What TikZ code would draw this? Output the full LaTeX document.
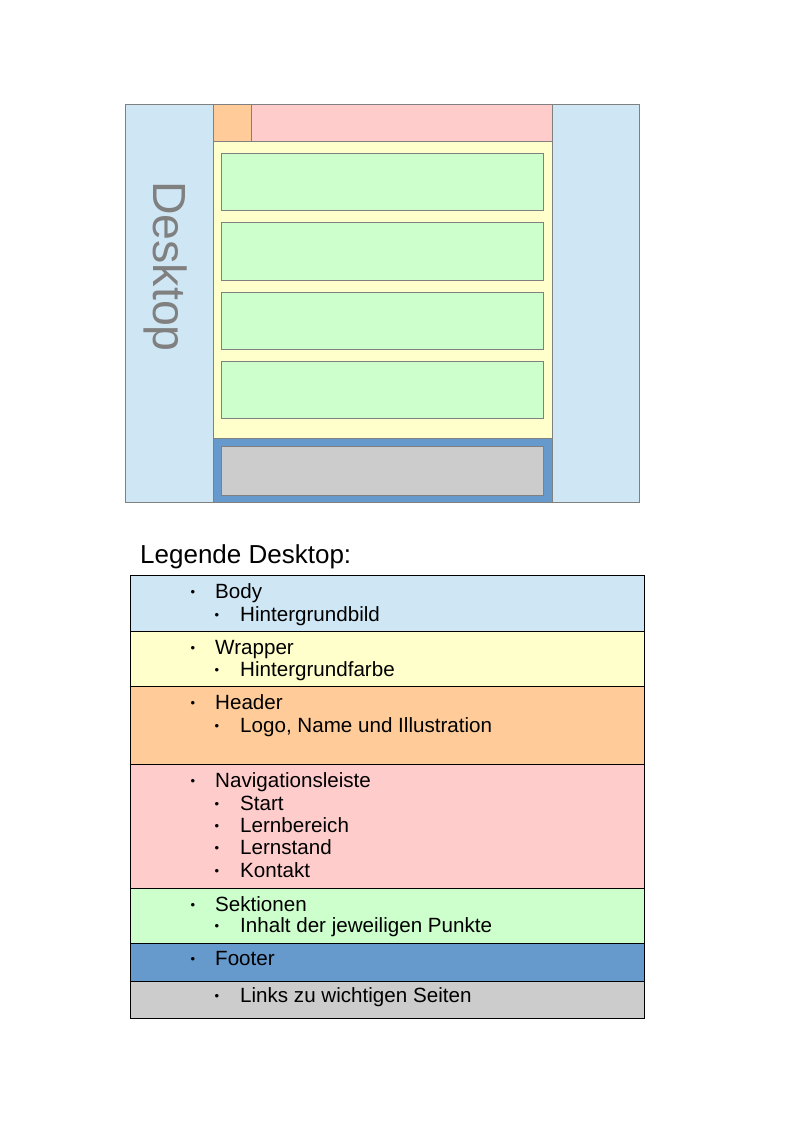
\documentclass[tikz,border=0pt]{standalone}
\usepackage{fontspec}
\setmainfont{Liberation Sans}
\definecolor{bodyc}{HTML}{CFE7F5}
\definecolor{wrapc}{HTML}{FFFFCC}
\definecolor{headc}{HTML}{FFCC99}
\definecolor{navc}{HTML}{FFCCCC}
\definecolor{secc}{HTML}{CCFFCC}
\definecolor{footc}{HTML}{6699CC}
\definecolor{linkc}{HTML}{CCCCCC}
\definecolor{edgec}{HTML}{808080}
\tikzset{
  gbox/.style={draw=edgec, line width=1pt},
  lrow/.style={draw=black, line width=1pt},
  ltxt/.style={anchor=base west, inner sep=0pt, font=\fontsize{20.6}{24}\selectfont},
  lbul/.style={anchor=base, inner sep=0pt, font=\fontsize{13}{15}\selectfont},
}
\begin{document}
\begin{tikzpicture}[x=1pt,y=-1pt]
\useasboundingbox (0,0) rectangle (794,1123);
% ---- desktop layout ----
\draw[gbox, fill=bodyc] (125,105) rectangle (639,502);
\draw[gbox, fill=wrapc] (213,142) rectangle (552,438);
\draw[gbox, fill=headc] (213,105) rectangle (251,142);
\draw[gbox, fill=navc] (251,105) rectangle (552,142);
\foreach \t in {154,223,292,361}{
  \draw[gbox, fill=secc] (221,\t) rectangle (543,\t+57);
}
\draw[gbox, fill=footc] (213,438) rectangle (552,502);
\draw[gbox, fill=linkc] (221,446) rectangle (543,495);
\node[rotate=-90, anchor=base west, inner sep=0pt, text=edgec,
      font=\fontsize{46.5}{50}\selectfont] (desk) at (153,181) {Desktop};
% ---- legend ----
\node[anchor=base west, inner sep=0pt, font=\fontsize{26}{30}\selectfont] (ltitle) at (140,563) {Legende Desktop:};
\draw[lrow, fill=bodyc] (130,575) rectangle (644,631);
\draw[lrow, fill=wrapc] (130,631) rectangle (644,686);
\draw[lrow, fill=headc] (130,686) rectangle (644,764);
\draw[lrow, fill=navc]  (130,764) rectangle (644,888);
\draw[lrow, fill=secc]  (130,888) rectangle (644,943);
\draw[lrow, fill=footc] (130,943) rectangle (644,981);
\draw[lrow, fill=linkc] (130,981) rectangle (644,1018);
% level 1 items
\foreach \y/\txt/\nm in {598/Body/t1, 654/Wrapper/t2, 709/Header/t3, 787/Navigationsleiste/t4, 911/Sektionen/t5, 965/Footer/t6}{
  \node[lbul] (b\nm) at (193,\y-1.5) {•};
  \node[ltxt] (\nm) at (215,\y) {\txt};
}
% level 2 items
\foreach \y/\txt/\nm in {621/Hintergrundbild/s1, 676/Hintergrundfarbe/s2, 732/{Logo, Name und Illustration}/s3, 810/Start/s4, 832/Lernbereich/s5, 854/Lernstand/s6, 877/Kontakt/s7, 932/Inhalt der jeweiligen Punkte/s8, 1002/Links zu wichtigen Seiten/s9}{
  \node[lbul] (b\nm) at (217,\y-1.5) {•};
  \node[ltxt] (\nm) at (240,\y) {\txt};
}
\end{tikzpicture}
\end{document}
